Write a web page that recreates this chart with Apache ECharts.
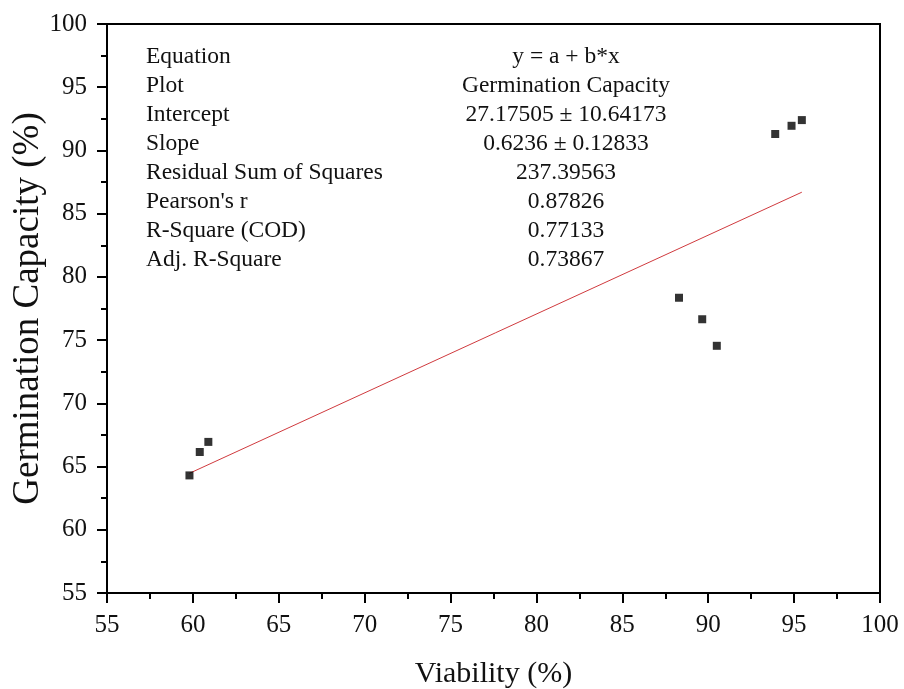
<!DOCTYPE html>
<html>
<head>
<meta charset="utf-8">
<script src="https://cdn.jsdelivr.net/npm/echarts@6/dist/echarts.min.js"></script>
<style>
html,body{margin:0;padding:0;background:#fff;}
#chart{width:904px;height:689px;}
</style>
</head>
<body>
<div id="chart"></div>
<script>
// Data
const viability = [59.8, 60.4, 60.9, 88.3, 89.65, 90.5, 93.9, 94.85, 95.45];
const germination = [64.3, 66.15, 66.95, 78.35, 76.65, 74.55, 91.3, 91.95, 92.4];
const fitIntercept = [27.17505];
const fitSlope = [0.6236];
const statLabels = ["Equation", "Plot", "Intercept", "Slope", "Residual Sum of Squares", "Pearson's r", "R-Square (COD)", "Adj. R-Square"];
const statValues = ["y = a + b*x", "Germination Capacity", "27.17505 \u00b1 10.64173", "0.6236 \u00b1 0.12833", "237.39563", "0.87826", "0.77133", "0.73867"];
const xTicks = [55, 60, 65, 70, 75, 80, 85, 90, 95, 100];
const yTicks = [55, 60, 65, 70, 75, 80, 85, 90, 95, 100];

const FONT = "'Liberation Serif', 'Times New Roman', serif";
const points = viability.map((v, i) => [v, germination[i]]);
const xMinD = Math.min.apply(null, viability), xMaxD = Math.max.apply(null, viability);
const fitLine = [xMinD, xMaxD].map(x => [x, fitIntercept[0] + fitSlope[0] * x]);

const chart = echarts.init(document.getElementById('chart'), null, {renderer: 'canvas'});

const graphics = [];
statLabels.forEach((t, i) => {
  graphics.push({type: 'text', x: 146, y: 57 + 29 * i,
    style: {text: t, font: '23.5px ' + FONT, fontFamily: FONT, fontSize: 23.5, fill: '#111', align: 'left', verticalAlign: 'middle'}});
});
statValues.forEach((t, i) => {
  graphics.push({type: 'text', x: 566, y: 57 + 29 * i,
    style: {text: t, font: '23.5px ' + FONT, fontFamily: FONT, fontSize: 23.5, fill: '#111', align: 'center', verticalAlign: 'middle'}});
});

function makeAxis(extra) {
  return Object.assign({
    type: 'value', interval: 5,
    nameLocation: 'middle',
    nameMoveOverlap: false,
    axisLine: {show: true, onZero: false, lineStyle: {color: '#000', width: 2}},
    axisTick: {show: true, inside: false, length: 10, lineStyle: {color: '#000', width: 2}},
    minorTick: {show: true, splitNumber: 2, length: 6, lineStyle: {color: '#000', width: 2}},
    splitLine: {show: false},
    minorSplitLine: {show: false}
  }, extra);
}

chart.setOption({
  animation: false,
  backgroundColor: '#fff',
  textStyle: {fontFamily: FONT},
  grid: {left: 107, right: 24, top: 24, bottom: 96, outerBoundsMode: 'none', containLabel: false,
    show: true, borderColor: '#000', borderWidth: 2, backgroundColor: 'transparent'},
  xAxis: makeAxis({
    min: xTicks[0], max: xTicks[xTicks.length - 1],
    name: 'Viability (%)', nameGap: 66,
    nameTextStyle: {color: '#111', fontFamily: FONT, fontSize: 30},
    axisLabel: {color: '#111', fontFamily: FONT, fontSize: 25, margin: 20}
  }),
  yAxis: makeAxis({
    min: yTicks[0], max: yTicks[yTicks.length - 1],
    name: 'Germination Capacity (%)', nameGap: 60,
    nameTextStyle: {color: '#111', fontFamily: FONT, fontSize: 37},
    axisLabel: {color: '#111', fontFamily: FONT, fontSize: 25, margin: 20}
  }),
  series: [
    {type: 'line', data: fitLine, symbol: 'none', lineStyle: {color: '#d03a3e', width: 1}, z: 2},
    {type: 'scatter', data: points, symbol: 'rect', symbolSize: 8, itemStyle: {color: '#000'}, z: 3}
  ],
  graphic: graphics
});
</script>
</body>
</html>
